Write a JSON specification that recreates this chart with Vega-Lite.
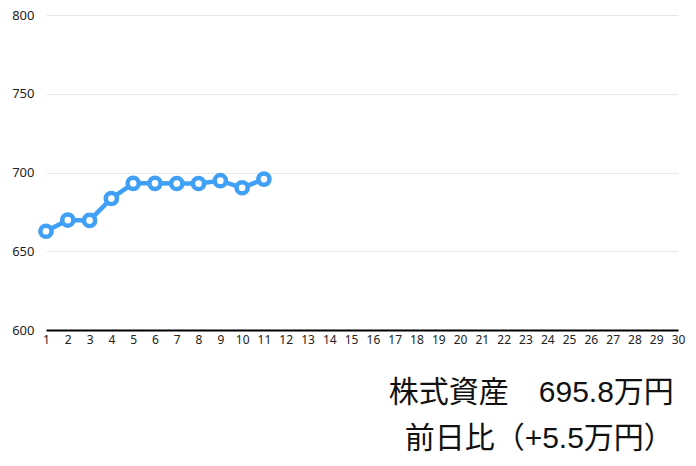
{
  "$schema": "https://vega.github.io/schema/vega-lite/v6.json",
  "description": "daily stock assets, line with hollow points",
  "width": 632,
  "height": 315,
  "autosize": {"type": "none"},
  "padding": {"left": 46, "top": 15, "right": 18, "bottom": 136},
  "background": "white",
  "config": {
    "view": {"stroke": null},
    "font": "Noto Sans",
    "axis": {"labelFont": "Noto Sans", "labelColor": "#222222"}
  },
  "title": {
    "text": ["株式資産　695.8万円", "前日比（+5.5万円）"],
    "orient": "bottom",
    "anchor": "end",
    "align": "right",
    "font": "Liberation Sans, Noto Sans CJK JP",
    "fontSize": 30,
    "fontWeight": "normal",
    "lineHeight": 46,
    "color": "#111111",
    "offset": 33,
    "dx": -11
  },
  "data": {
    "values": [
      {"day": 1, "value": 662.7},
      {"day": 2, "value": 669.8},
      {"day": 3, "value": 669.6},
      {"day": 4, "value": 683.5},
      {"day": 5, "value": 693.1},
      {"day": 6, "value": 693.1},
      {"day": 7, "value": 693.0},
      {"day": 8, "value": 693.0},
      {"day": 9, "value": 694.8},
      {"day": 10, "value": 690.3},
      {"day": 11, "value": 695.8}
    ]
  },
  "encoding": {
    "x": {
      "field": "day",
      "type": "quantitative",
      "scale": {"domain": [1, 30], "nice": false, "zero": false},
      "axis": {
        "title": null,
        "values": [1, 2, 3, 4, 5, 6, 7, 8, 9, 10, 11, 12, 13, 14, 15, 16, 17, 18, 19, 20, 21, 22, 23, 24, 25, 26, 27, 28, 29, 30],
        "grid": false,
        "ticks": false,
        "domainColor": "#000000",
        "domainWidth": 2,
        "labelFontSize": 12,
        "labelPadding": 4,
        "labelFlush": false,
        "labelOverlap": false
      }
    },
    "y": {
      "field": "value",
      "type": "quantitative",
      "scale": {"domain": [600, 800], "nice": false, "zero": false},
      "axis": {
        "title": null,
        "values": [600, 650, 700, 750, 800],
        "grid": true,
        "gridColor": "#e8e8e8",
        "domain": false,
        "ticks": false,
        "labelFontSize": 13,
        "labelPadding": 12
      }
    }
  },
  "layer": [
    {"mark": {"type": "line", "color": "#3fa0f5", "strokeWidth": 4.5}},
    {"mark": {"type": "point", "shape": "circle", "filled": true, "fill": "white", "stroke": "#3fa0f5", "strokeWidth": 4.5, "size": 125, "opacity": 1}}
  ]
}
